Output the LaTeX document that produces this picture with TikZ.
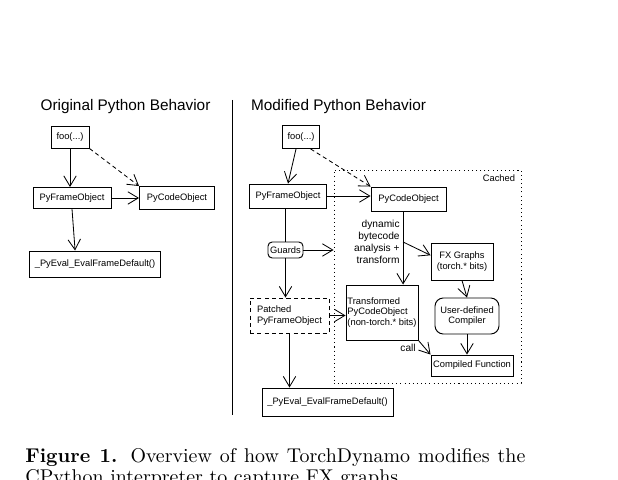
\documentclass[tikz,border=0pt]{standalone}
\usepackage{fontspec}
\setsansfont{Liberation Sans}
\usepackage{tikz}
\usetikzlibrary{arrows.meta, positioning, calc}
\newcommand{\pxu}{0.482pt}
\newcommand{\diagfont}{\sffamily\fontsize{4.5}{5.1}\selectfont}
\newcommand{\handfont}{\sffamily\fontsize{4.9}{5.8}\selectfont}
\newcommand{\titlefont}{\sffamily\fontsize{7.4}{8.5}\selectfont}

\begin{document}
\begin{tikzpicture}[x=\pxu, y=-\pxu,
  box/.style 2 args={rectangle, draw, line width=0.45pt, inner sep=0pt, align=center,
    font=\diagfont, minimum width=#1*\pxu, minimum height=#2*\pxu},
  flow/.style={line width=0.4pt, -{Straight Barb[length=5pt, width=6pt, line width=0.4pt]}},
  dashline/.style={dash pattern=on 2pt off 1.5pt}
]
\useasboundingbox (0,0) rectangle (618,480);

\node[font=\titlefont] (otitle) at (125.5,107) {Original Python Behavior};
\node[font=\titlefont] (mtitle) at (338.5,107) {Modified Python Behavior};
\draw[line width=0.45pt] (232,100) -- (232,415);

% original
\node[box={38}{22}] (ofoo) at (70,137) {foo(...)};
\node[box={78}{21}] (oframe) at (72,198) {PyFrameObject};
\node[box={75}{23}] (ocode) at (177,198) {PyCodeObject};
\node[box={131}{26}] (oeval) at (95,264) {\_PyEval\_EvalFrameDefault()};

\draw[flow] (ofoo.south) -- (ofoo.south |- oframe.north);
\draw[flow, dashline] (ofoo.south east) -- (ocode.north west);
\draw[flow] (oframe.east) -- (ocode.west);
\draw[flow] (oframe.south) -- ([xshift=-9.6pt]oeval.north);

% modified
\node[box={37}{23}] (mfoo) at (301,137) {foo(...)};
\node[box={77}{24}] (mframe) at (288,196) {PyFrameObject};
\node[draw, line width=0.45pt, dash pattern=on 0.5pt off 1.5pt,
  minimum width=187*\pxu, minimum height=213*\pxu, inner sep=0pt] (cached) at (427.5,276.5) {};
\node[font=\diagfont, anchor=north east, inner sep=0pt] (cachedlbl)
  at ([shift={(-6,5)}]cached.north east) {Cached};
\node[box={75}{24}] (mcode) at (408.5,199) {PyCodeObject};
\node[box={35}{16}, rounded corners=2pt] (guards) at (285.5,250) {Guards};
\node[box={62}{37}] (fx) at (462,261.5) {FX Graphs\\(torch.* bits)};
\node[box={72}{55}, align=left] (trans) at (382,312.5) {Transformed\\PyCodeObject\\(non-torch.* bits)};
\node[box={79}{35}, align=left, dashline] (patched) at (289.5,315.5) {Patched\\PyFrameObject};
\node[box={64}{36}, rounded corners=4pt] (udc) at (467,316) {User-defined\\Compiler};
\node[box={82}{21}] (cfun) at (472,365.5) {Compiled Function};
\node[box={131}{28}] (meval) at (327.5,402) {\_PyEval\_EvalFrameDefault()};
\node[font=\handfont, align=right, anchor=east, inner sep=0pt] (dyn) at (400,242)
  {dynamic\\bytecode\\analysis +\\transform};

\draw[flow] ([xshift=-2.4pt]mfoo.south) -- (mframe.north);
\draw[flow, dashline] ([xshift=-4.5pt]mfoo.south east) -- (mcode.north west);
\draw[flow] (mframe.east) -- (mframe.east -| mcode.west);
\draw[line width=0.4pt] (mframe.south -| guards.north) -- (guards.north);
\draw[flow] (guards.south) -- (guards.south |- patched.north);
\draw[flow] (guards.east) -- (guards.east -| cached.west);
\coordinate (split) at ([xshift=-2.6pt]mcode.south);
\coordinate (branch) at (split |- dyn.east);
\draw[flow] (split) -- (split |- trans.north);
\draw[flow] (branch) -- ([yshift=3pt]fx.west);
\draw[flow] (patched.east) -- (patched.east -| trans.west);
\draw[flow] (patched.south) -- (patched.south |- meval.north);
\draw[flow] (trans.south east) -- (cfun.north west)
  node[pos=0.55, left=1pt, font=\handfont] (calllbl) {call};
\draw[flow] (fx.south) -- (udc.north);
\draw[flow] (udc.south) -- (udc.south |- cfun.north);

% caption
\node[anchor=north west, inner sep=0pt, text width=241pt, align=justify,
  font=\fontsize{9.6}{10.2}\selectfont] (caption) at (25,448)
  {\textbf{Figure 1.} Overview of how TorchDynamo modifies the\linebreak
   CPython interpreter to capture FX graphs.};
\end{tikzpicture}
\end{document}
